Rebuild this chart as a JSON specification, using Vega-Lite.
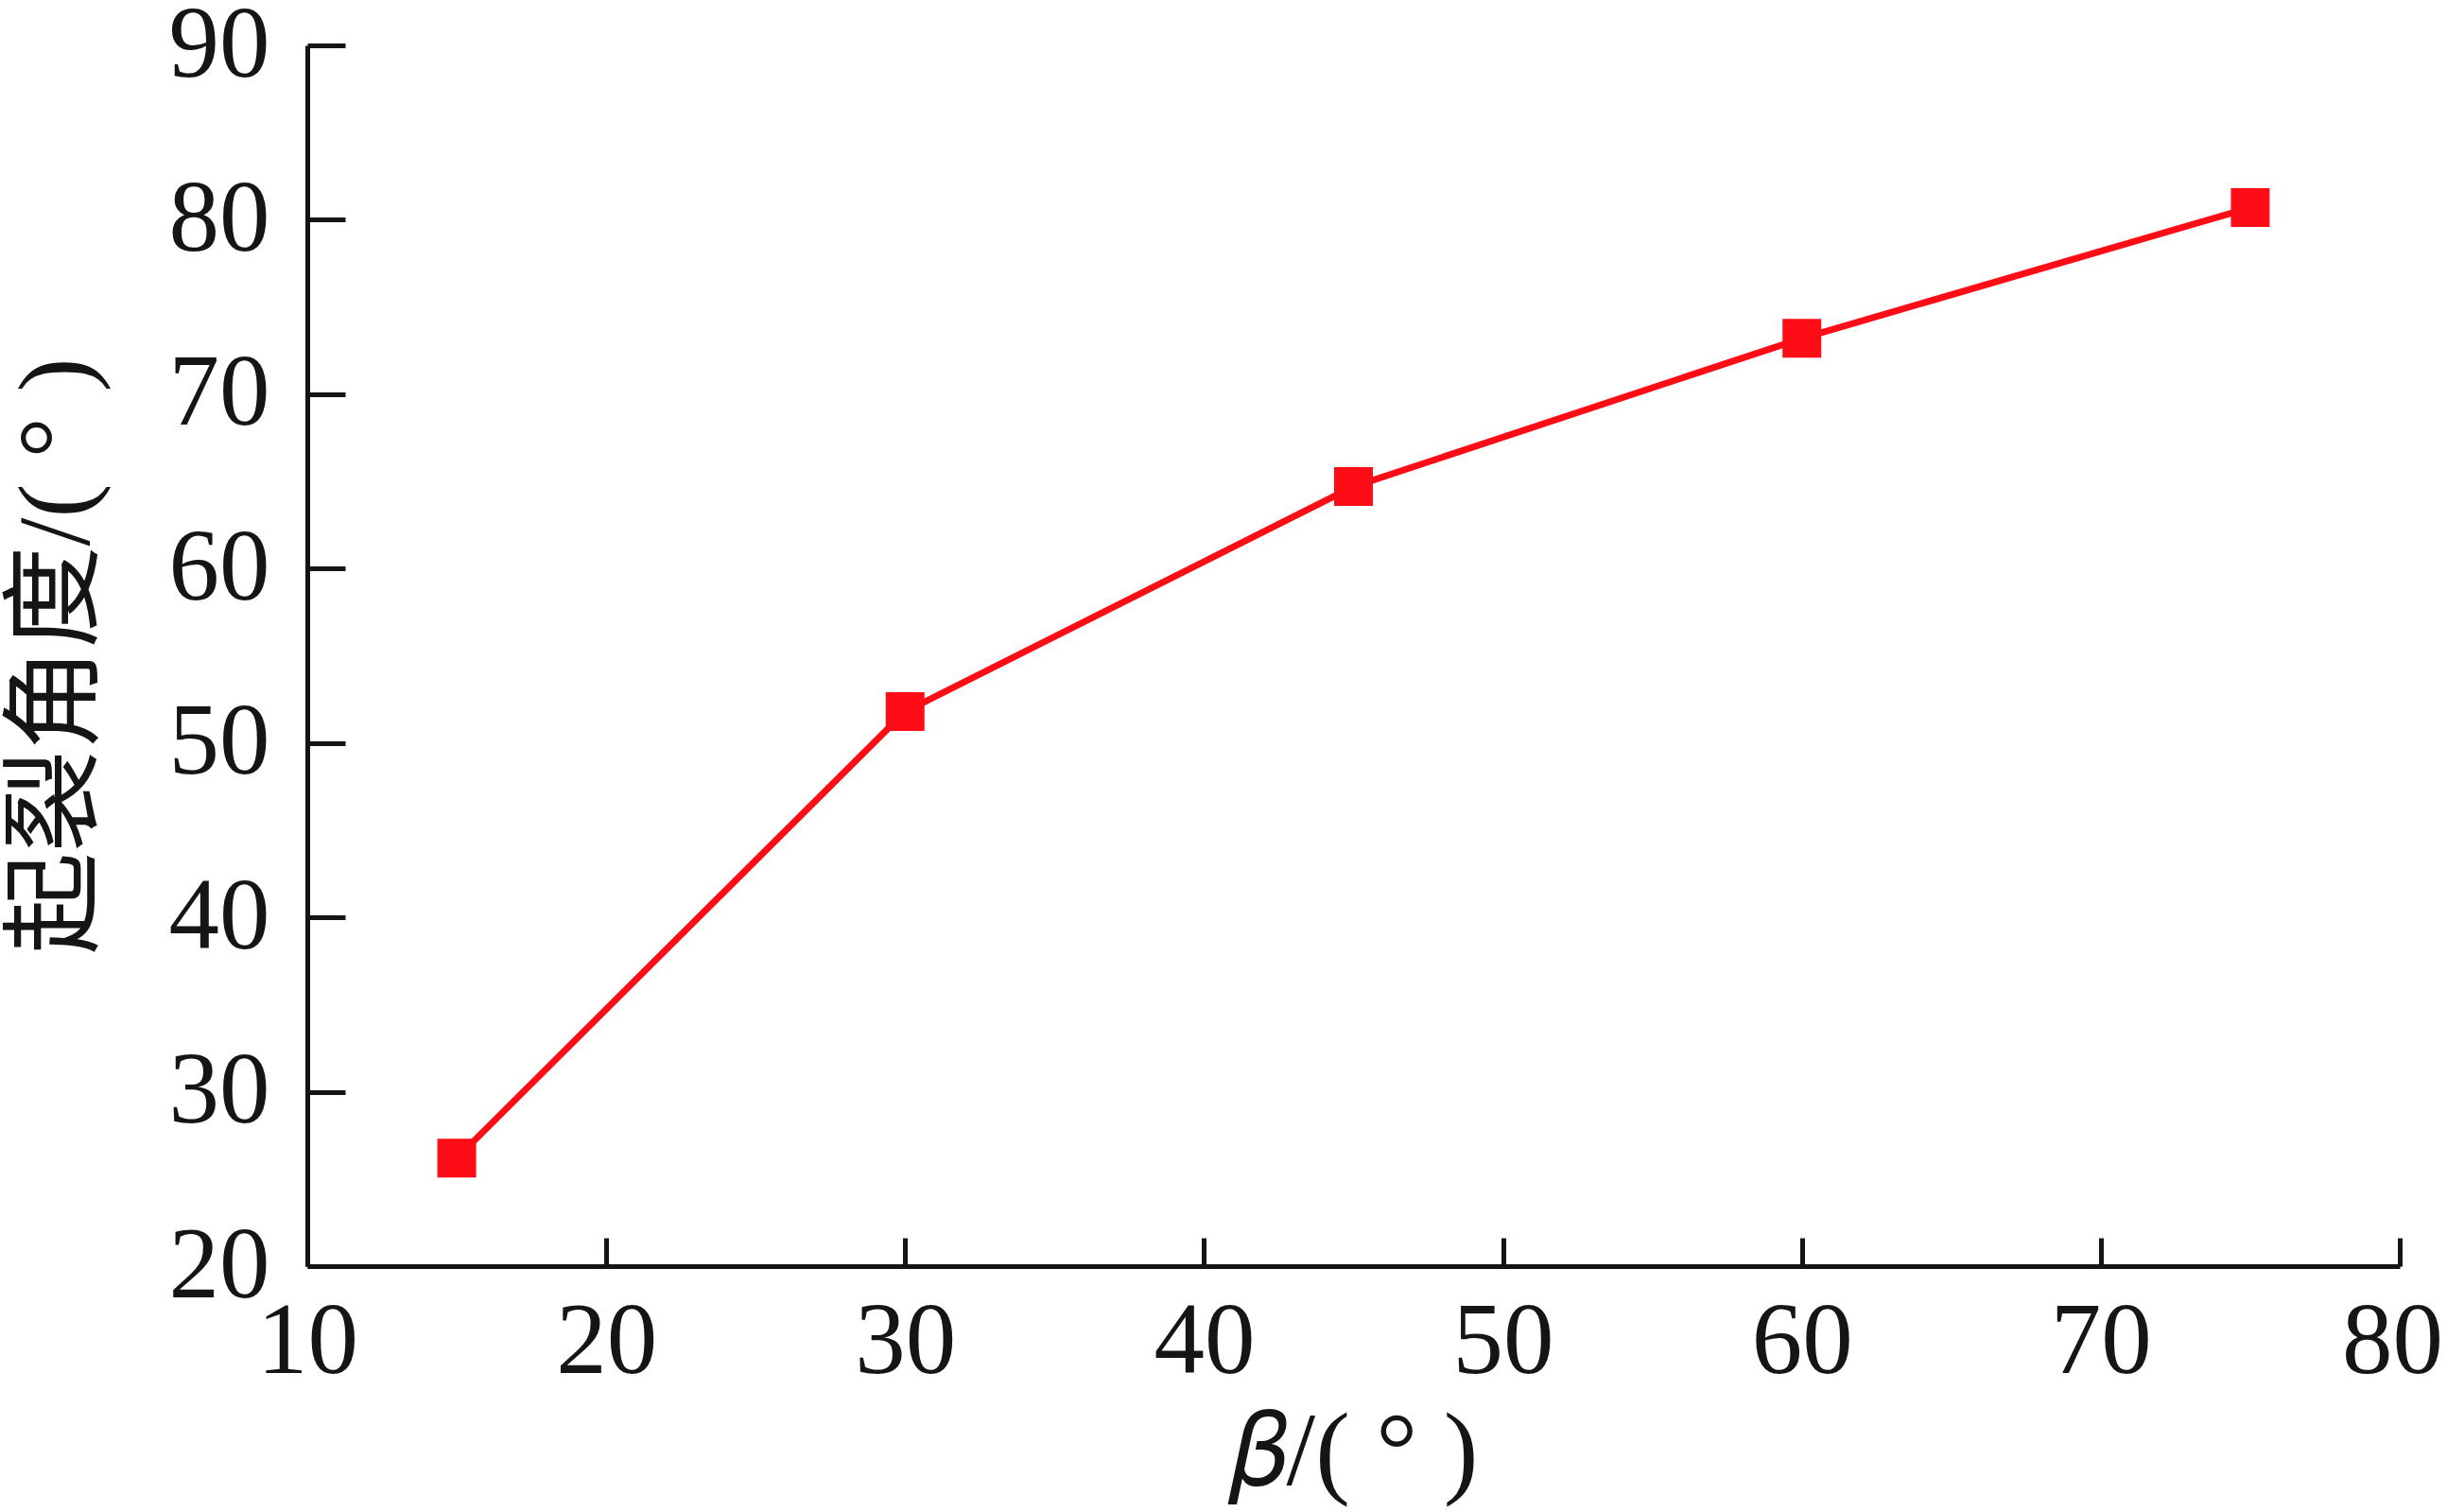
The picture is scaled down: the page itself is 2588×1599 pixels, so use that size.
{
  "$schema": "https://vega.github.io/schema/vega-lite/v6.json",
  "width": 2213,
  "height": 1291,
  "autosize": {"type": "none"},
  "padding": {"left": 325, "top": 48, "right": 50, "bottom": 260},
  "background": "white",
  "config": {
    "view": {"stroke": null},
    "axis": {
      "grid": false,
      "domainColor": "#151515",
      "domainWidth": 5,
      "tickColor": "#151515",
      "tickWidth": 5,
      "labelFont": "Liberation Serif",
      "labelFontSize": 107,
      "labelColor": "#151515",
      "titleColor": "#151515",
      "titleFontWeight": "normal",
      "labelFlush": false,
      "labelOverlap": false
    }
  },
  "data": {
    "values": [
      {"beta": 15, "angle": 26.2},
      {"beta": 30, "angle": 51.8},
      {"beta": 45, "angle": 64.7},
      {"beta": 60, "angle": 73.2},
      {"beta": 75, "angle": 80.7}
    ]
  },
  "encoding": {
    "x": {
      "field": "beta",
      "type": "quantitative",
      "scale": {"domain": [10, 80], "nice": false, "zero": false},
      "axis": {
        "values": [10, 20, 30, 40, 50, 60, 70, 80],
        "tickSize": -30,
        "labelPadding": 57,
        "labelOffset": {"condition": {"test": "datum.value == 80", "value": -8}, "value": 0},
        "title": "𝛽/( ° )",
        "titleFont": "Liberation Serif, DejaVu Serif",
        "titleFontSize": 110,
        "titlePadding": 10
      }
    },
    "y": {
      "field": "angle",
      "type": "quantitative",
      "scale": {"domain": [20, 90], "nice": false, "zero": false},
      "axis": {
        "values": [20, 30, 40, 50, 60, 70, 80, 90],
        "tickSize": -40,
        "labelPadding": 80,
        "title": "起裂角度/( ° )",
        "titleFont": "Liberation Serif, Noto Sans CJK SC",
        "titleFontSize": 108,
        "titlePadding": 62
      }
    }
  },
  "layer": [
    {
      "mark": {"type": "line", "color": "#fe0d16", "strokeWidth": 7}
    },
    {
      "mark": {"type": "square", "color": "#fe0d16", "opacity": 1, "filled": true, "size": 1680}
    }
  ]
}
